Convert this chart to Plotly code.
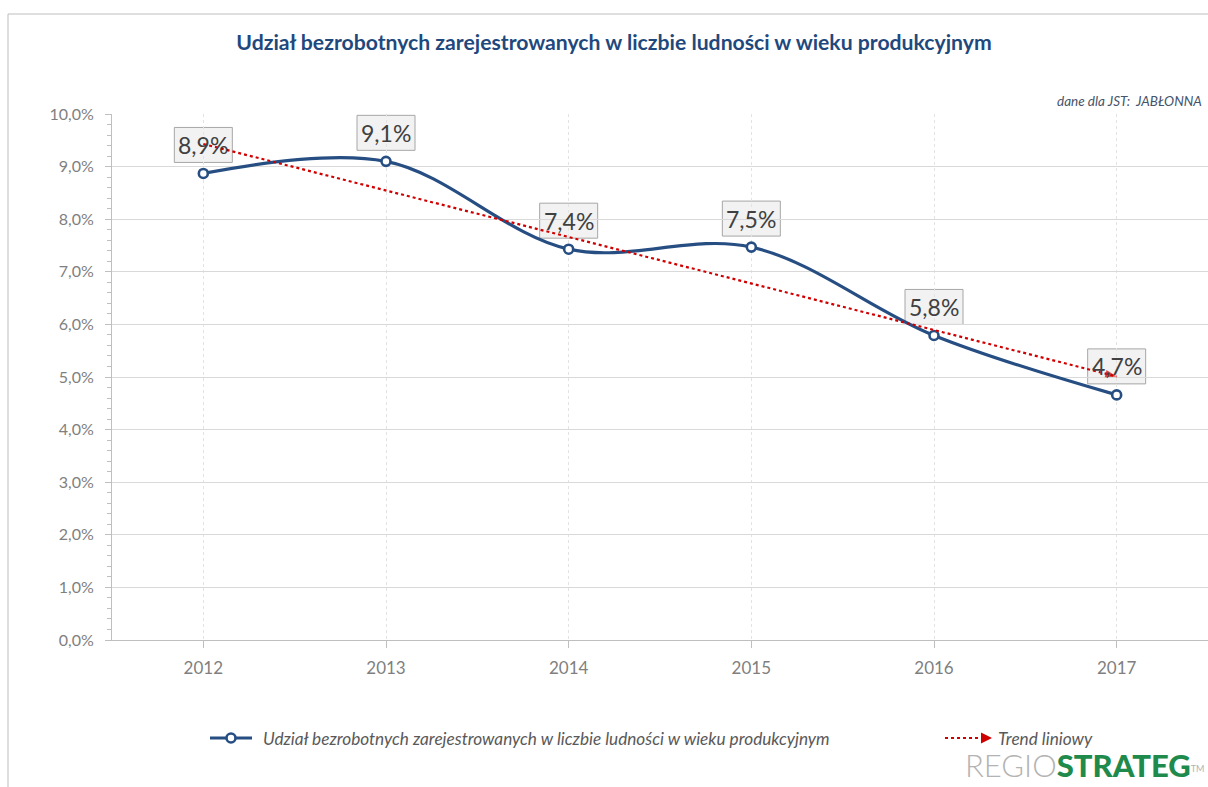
import numpy as np
import plotly.graph_objects as go

# ---- data ----
years = ["2012", "2013", "2014", "2015", "2016", "2017"]
values = [8.87, 9.10, 7.43, 7.47, 5.79, 4.66]
labels = ["8,9%", "9,1%", "7,4%", "7,5%", "5,8%", "4,7%"]
y_ticks = [0, 1, 2, 3, 4, 5, 6, 7, 8, 9, 10]
y_ticktext = ["0,0%", "1,0%", "2,0%", "3,0%", "4,0%", "5,0%", "6,0%", "7,0%", "8,0%", "9,0%", "10,0%"]
series_name = "Udział bezrobotnych zarejestrowanych w liczbie ludności w wieku produkcyjnym"
trend_name = "Trend liniowy"
title_text = "Udział bezrobotnych zarejestrowanych w liczbie ludności w wieku produkcyjnym"
subtitle_text = "dane dla JST:  JABŁONNA"

xs = list(range(len(years)))
coef = np.polyfit(xs, values, 1)
trend_x = [xs[0], xs[-1]]
trend_y = [float(np.polyval(coef, v)) for v in trend_x]

FONT = "Lato"
NAVY = "#264e82"
RED = "#d00000"

def px_x(p):
    return (p - 112) / 1096

def px_y(p):
    return (640 - p) / 526

fig = go.Figure()

fig.add_trace(go.Scatter(
    x=xs, y=values, name=series_name, mode="lines+markers",
    line=dict(color=NAVY, width=3.2, shape="spline", smoothing=1.0),
    marker=dict(symbol="circle", size=9, color="white",
                line=dict(color=NAVY, width=2.6)),
    showlegend=False, hoverinfo="skip",
))

fig.add_trace(go.Scatter(
    x=trend_x, y=trend_y, name=trend_name, mode="lines",
    line=dict(color=RED, width=2.2, dash="dot"),
    showlegend=False, hoverinfo="skip",
))
# arrow head at the end of the trend line
fig.add_trace(go.Scatter(
    x=trend_x, y=trend_y, mode="markers", showlegend=False,
    marker=dict(symbol="arrow", size=[0, 12], color=RED, angleref="previous",
                line=dict(width=0)),
    hoverinfo="skip",
))

shapes = []
annotations = []
for x, v, t in zip(xs, values, labels):
    shapes.append(dict(
        type="rect", xref="x", yref="y", xsizemode="pixel", ysizemode="pixel",
        xanchor=x, yanchor=v, x0=-29, x1=29, y0=11, y1=46,
        fillcolor="#f2f2f2", line=dict(color="#a6a6a6", width=1), layer="below",
    ))
    annotations.append(dict(
        x=x, y=v, xref="x", yref="y", text=t, showarrow=False,
        yshift=28.5, font=dict(family=FONT, size=23, color="#404040"),
    ))

annotations.append(dict(
    x=px_x(1204), y=px_y(101), xref="paper", yref="paper",
    xanchor="right", yanchor="middle", showarrow=False, text=subtitle_text,
    font=dict(family=FONT, size=13.5, color="#44546a", style="italic"),
))
annotations.append(dict(
    x=px_x(1207), y=px_y(786), xref="paper", yref="paper",
    xanchor="right", yanchor="bottom", showarrow=False,
    text=("<span style='color:#b3b3b3;font-weight:300'>REGIO</span>"
          "<span style='color:#1e8a4c;font-weight:900'>STRATEG</span>"
          "<span style='color:#b3b3b3;font-size:13px'><sup>TM</sup></span>"),
    font=dict(family=FONT, size=31, color="#b3b3b3"),
))

# ---- legend (drawn manually for exact placement) ----
LEG_Y = 738
shapes.append(dict(
    type="line", xref="paper", yref="paper",
    x0=px_x(210), x1=px_x(252), y0=px_y(LEG_Y), y1=px_y(LEG_Y),
    line=dict(color=NAVY, width=3.2),
))
shapes.append(dict(
    type="circle", xref="paper", yref="paper", xsizemode="pixel", ysizemode="pixel",
    xanchor=px_x(231), yanchor=px_y(LEG_Y), x0=-4.5, x1=4.5, y0=-4.5, y1=4.5,
    fillcolor="white", line=dict(color=NAVY, width=2.6),
))
annotations.append(dict(
    x=px_x(261), y=px_y(LEG_Y), xref="paper", yref="paper",
    xanchor="left", yanchor="middle", showarrow=False, text=series_name,
    font=dict(family=FONT, size=17.2, color="#595959", style="italic"),
))
shapes.append(dict(
    type="line", xref="paper", yref="paper",
    x0=px_x(945), x1=px_x(986), y0=px_y(LEG_Y), y1=px_y(LEG_Y),
    line=dict(color=RED, width=2.2, dash="dot"),
))
annotations.append(dict(
    x=px_x(992), y=px_y(LEG_Y), xref="paper", yref="paper", text="",
    showarrow=True, ax=-7, ay=0, arrowhead=2, arrowsize=1.1, arrowwidth=2,
    arrowcolor=RED,
))
annotations.append(dict(
    x=px_x(996), y=px_y(LEG_Y), xref="paper", yref="paper",
    xanchor="left", yanchor="middle", showarrow=False, text=trend_name,
    font=dict(family=FONT, size=17.2, color="#595959", style="italic"),
))

# outer frame
shapes.append(dict(
    type="rect", xref="paper", yref="paper",
    x0=px_x(8), x1=px_x(1215), y0=px_y(800), y1=px_y(14),
    line=dict(color="#bdbdbd", width=1), fillcolor="rgba(0,0,0,0)", layer="below",
))

fig.update_layout(
    width=1208, height=787,
    margin=dict(l=112, r=0, t=114, b=147),
    paper_bgcolor="white", plot_bgcolor="white",
    separators=", ",
    font=dict(family=FONT, color="#7f7f7f"),
    title=dict(
        text="<b>" + title_text + "</b>", xref="container", yref="container",
        x=614 / 1208, y=1 - 43 / 787, xanchor="center", yanchor="middle",
        font=dict(family=FONT, size=21.2, color="#1f497d"),
    ),
    xaxis=dict(
        range=[-0.5, 5.5], tickvals=xs, ticktext=years,
        showgrid=True, gridcolor="#e3e3e3", griddash="dot", gridwidth=1,
        showline=True, linecolor="#bfbfbf", linewidth=1,
        ticks="outside", ticklen=7, tickcolor="#bfbfbf",
        tickfont=dict(family=FONT, size=17, color="#7f7f7f"),
        ticklabelstandoff=6, zeroline=False, fixedrange=True,
    ),
    yaxis=dict(
        range=[0, 10], tickvals=y_ticks, ticktext=y_ticktext,
        showgrid=True, gridcolor="#d9d9d9", gridwidth=1,
        showline=True, linecolor="#bfbfbf", linewidth=1,
        ticks="outside", ticklen=6, tickcolor="#bfbfbf",
        minor=dict(dtick=0.2, ticks="outside", ticklen=4, tickcolor="#bfbfbf", showgrid=False),
        tickfont=dict(family=FONT, size=16, color="#7f7f7f"),
        ticklabelstandoff=8, zeroline=False, fixedrange=True,
    ),
    annotations=annotations,
    shapes=shapes,
    showlegend=False,
)

fig.write_html(
    "out.html",
    config={"displayModeBar": False},
    post_script="document.body.style.margin='0';document.body.style.overflow='hidden';",
)
